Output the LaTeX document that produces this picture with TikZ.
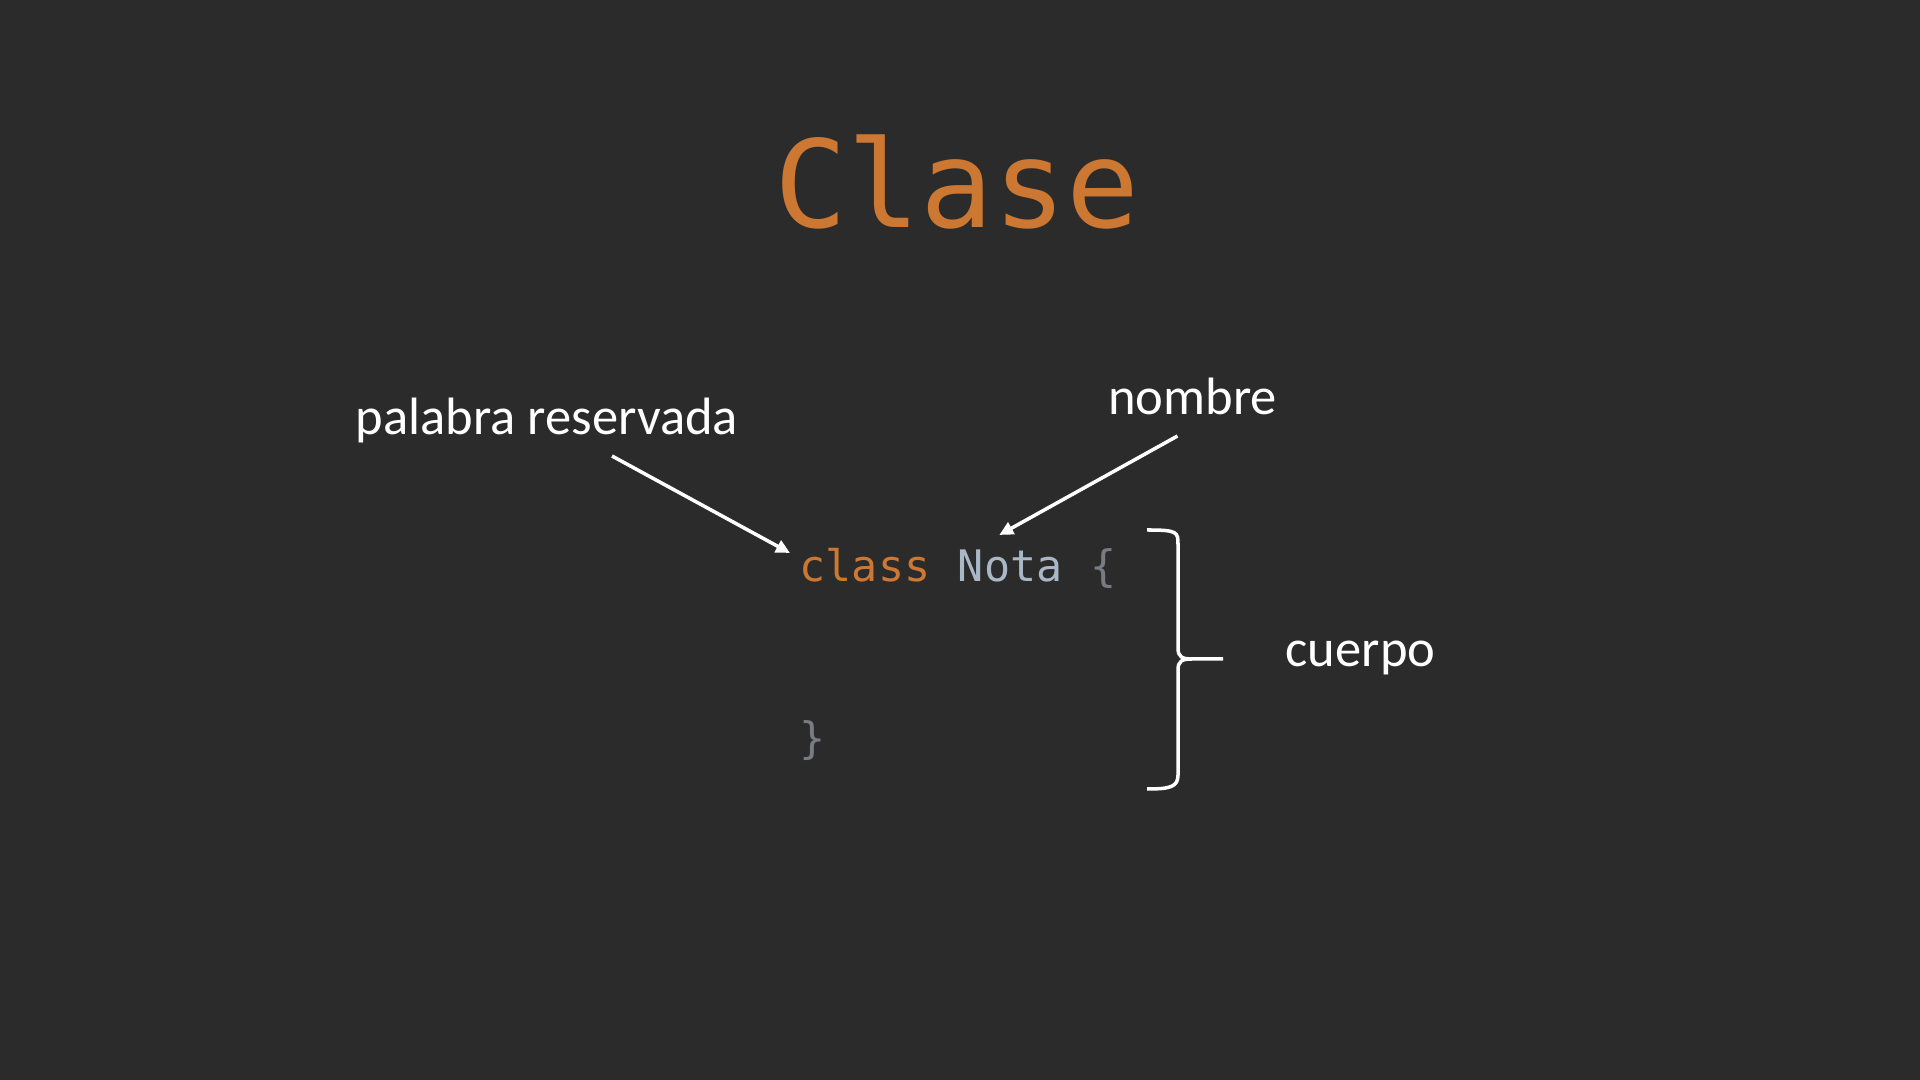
\documentclass[tikz,border=0pt]{standalone}
\usepackage{xcolor}
\usepackage{tikz}
\usepackage{fontspec}
\setmainfont{Carlito}
\newfontfamily\codefont{DejaVu Sans Mono}
\definecolor{bgdark}{RGB}{43, 43, 43}
\definecolor{keyorange}{RGB}{204, 120, 50}
\definecolor{namegray}{RGB}{169, 183, 198}
\definecolor{bracegray}{RGB}{120, 124, 130}
\usetikzlibrary{arrows.meta, positioning}

\begin{document}
\begin{tikzpicture}[
    label/.style={text=white, inner sep=0pt, anchor=base, font=\fontsize{14.95pt}{17pt}\selectfont},
    code/.style={inner sep=0pt, font=\codefont\fontsize{12.35pt}{15pt}\selectfont},
    pointer/.style={draw=white, line width=1pt, -{Triangle[length=0.14cm, width=0.13cm]}},
]
    % Background
    \fill[bgdark] (0, 0) rectangle (19.2, 10.8);

    % Header
    \node[inner sep=0pt, anchor=base, text=keyorange, font=\codefont\fontsize{34.5pt}{40pt}\selectfont] (title) at (9.57, 8.52) {Clase};

    % Code
    \node[code, anchor=base west, text=keyorange] (kw) at (7.99, 4.98) {class};
    \node[code, base right=0.262cm of kw, text=namegray] (cname) {Nota};
    \node[code, base right=0.262cm of cname, text=bracegray] (open) {\{};
    \node[code, anchor=base west, text=bracegray] (close) at (7.99, 3.26) {\}};

    % Labels
    \node[label] (reserved) at (5.47, 6.45) {palabra reservada};
    \node[label] (name) at (11.925, 6.65) {nombre};
    \node[label] (body) at (13.605, 4.13) {cuerpo};

    % Pointers
    \draw[pointer] ([shift={(0.65, -0.21)}]reserved.base) -- ([shift={(-0.09, 0.29)}]kw.base west);
    \draw[pointer] ([shift={(-0.15, -0.21)}]name.base) -- ([shift={(-0.11, 0.47)}]cname.base);

    % Brace
    \draw[white, line width=1pt]
        (11.47, 5.50) .. controls (11.78, 5.50) and (11.78, 5.48) .. (11.78, 5.35)
        -- (11.78, 4.32) .. controls (11.78, 4.23) and (11.82, 4.21) .. (11.92, 4.21) -- (12.23, 4.21)
        (11.92, 4.21) .. controls (11.82, 4.21) and (11.78, 4.19) .. (11.78, 4.10)
        -- (11.78, 3.05) .. controls (11.78, 2.93) and (11.70, 2.91) .. (11.47, 2.91);

\end{tikzpicture}
\end{document}
